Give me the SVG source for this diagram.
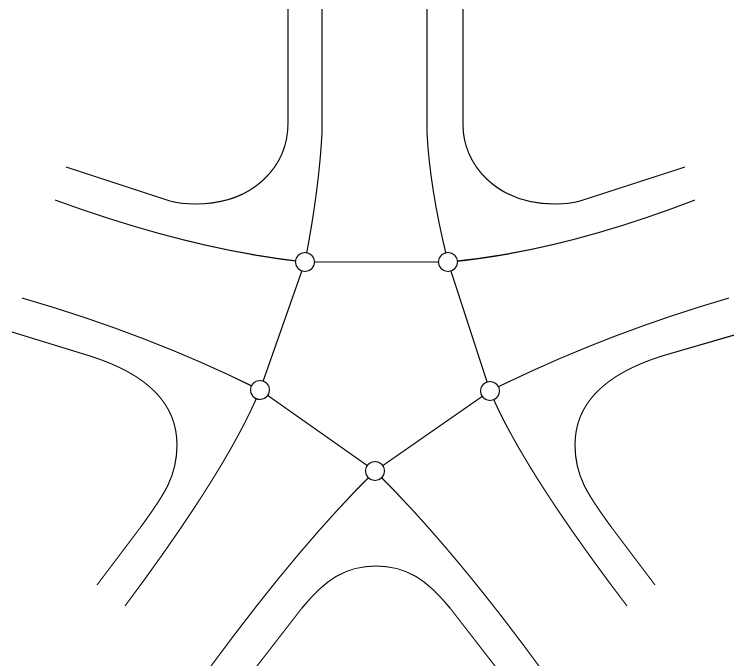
<svg xmlns="http://www.w3.org/2000/svg" width="734" height="666" viewBox="0 0 734 666">
<style>
.ln{fill:none;stroke:#000;stroke-width:1.2;stroke-linejoin:round;stroke-linecap:butt}
.nd{fill:#fff;stroke:#000;stroke-width:1.2}
</style>
<rect width="734" height="666" fill="#fff"/>
<g id="connectors">
<path class="ln" d="M288,9 L288,123 C288,165 255,204 195,204 Q180,204 170,201 L66,167"/>
<path class="ln" d="M322,9 L322,133 Q319,190 305,262"/>
<path class="ln" d="M427,9 L427,133 Q430,190 448,262"/>
<path class="ln" d="M463,9 L463,125 C463,165 497,204 555,204 Q570,204 580,201 L685,167"/>
<path class="ln" d="M55,200 Q192,250 305,262"/>
<path class="ln" d="M695,200 Q560,252 448,262"/>
<path class="ln" d="M22,298 Q150,335 260,390"/>
<path class="ln" d="M729,298 Q602,335 490,391"/>
<path class="ln" d="M12,332 L90,356 C150,375 177,405 177,445 C177,480 160,500 140,528 L97,585"/>
<path class="ln" d="M734,335 L662,356 C602,375 575,405 575,445 C575,480 592,500 612,528 L655,585"/>
<path class="ln" d="M260,390 Q228,468 125,606"/>
<path class="ln" d="M490,391 Q522,468 627,606"/>
<path class="ln" d="M375,471 Q300,545 211,666"/>
<path class="ln" d="M375,471 Q450,545 539,666"/>
<path class="ln" d="M257,666 L302,608 C325,580 345,566 376,566 C407,566 427,580 450,608 L495,666"/>
<line class="ln" x1="305" y1="262" x2="448" y2="262"/>
<line class="ln" x1="305" y1="262" x2="260" y2="390"/>
<line class="ln" x1="448" y1="262" x2="490" y2="391"/>
<line class="ln" x1="260" y1="390" x2="375" y2="471"/>
<line class="ln" x1="490" y1="391" x2="375" y2="471"/>
</g>
<g id="n1"><circle class="nd" cx="305" cy="262" r="9.5"/></g>
<g id="n2"><circle class="nd" cx="448" cy="262" r="9.5"/></g>
<g id="n3"><circle class="nd" cx="260" cy="390" r="9.5"/></g>
<g id="n4"><circle class="nd" cx="490" cy="391" r="9.5"/></g>
<g id="n5"><circle class="nd" cx="375" cy="471" r="9.5"/></g>
</svg>
